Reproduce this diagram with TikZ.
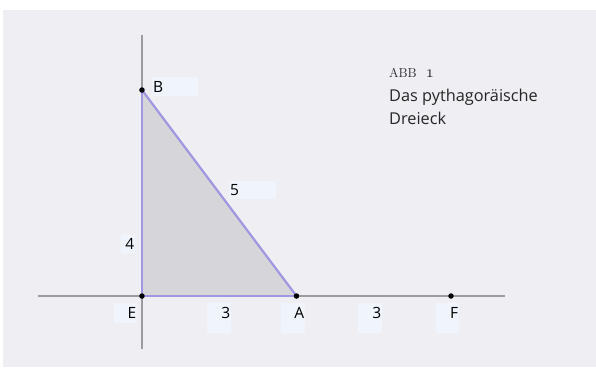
\documentclass[tikz,border=0pt]{standalone}
\usepackage{fontspec}
\usepackage{tikz}
\newfontfamily\sansfnt{Open Sans}
\newcommand\lblfont{\sansfnt\fontsize{15.5}{18}\selectfont}
\newcommand\ttlfont{\sansfnt\fontsize{16.3}{23}\selectfont}
\definecolor{panelbg}{HTML}{EEEEF3}
\definecolor{lblbg}{HTML}{F0F4FC}
\definecolor{trifill}{HTML}{D6D6DA}
\definecolor{triedge}{HTML}{9F97E2}
\definecolor{axisgray}{HTML}{9C9CA0}

\begin{document}
\begin{tikzpicture}[x=51.5pt, y=51.5pt,
  pt/.style={circle, fill=black, inner sep=0pt, minimum size=5.5pt},
  lbl/.style={fill=lblbg, font=\lblfont, inner ysep=4pt, inner xsep=1pt, anchor=north west, text height=11pt},
  lblleft/.style={lbl, text width=#1, align=left},
  lblright/.style={lbl, text width=#1, align=right},
  axis/.style={draw=axisgray, line width=2.4pt},
  side/.style={draw=triedge, line width=2.2pt}]
\useasboundingbox (-2.757,-1.379) rectangle (8.816,5.748);
\fill[panelbg] (-2.699,-1.379) rectangle (8.816,5.553);

\coordinate (E) at (0,0);
\coordinate (B) at (0,4);
\coordinate (A) at (3,0);
\coordinate (F) at (6,0);
\coordinate (xl) at (-2.02,0);
\coordinate (xr) at (7.05,0);
\coordinate (yt) at (0,5.07);
\coordinate (yb) at (0,-1.03);

\fill[trifill] (E) -- (B) -- (A) -- cycle;
\draw[axis] (xl) -- (xr);
\draw[axis] (yb) -- (yt);
\foreach \p/\q in {E/B, B/A, E/A}
{\draw[side] (\p) -- (\q);}
\foreach \p in {E, B, A, F}
{\node[pt] (dot\p) at (\p) {};}

% labels
\node[lblleft=44pt] (lB) at (0.194,4.252) {B};
\node[lblleft=45pt, inner ysep=3.5pt] (lBA) at (1.689,2.233) {5};
\node[lblright=12pt, inner ysep=3.5pt] (lEB) at (-0.408,1.184) {4};
\node[lblright=21pt, text depth=1pt] (lE) at (-0.544,-0.136) {E};
\node[lblright=22pt, text depth=11pt] (lEA) at (1.262,-0.136) {3};
\node[lblright=22pt, text depth=11pt] (lA) at (2.699,-0.136) {A};
\node[lblright=22pt, text depth=11pt] (lAF) at (4.194,-0.136) {3};
\node[lblright=21pt, text depth=11pt] (lF) at (5.709,-0.136) {F};

% caption
\node[anchor=base west, inner sep=0pt, text=black!85] (abb) at (4.796,4.252)
  {{\fontsize{13}{15}\selectfont\addfontfeature{LetterSpace=12}ABB}\hspace{9pt}{\fontsize{18}{20}\usefont{OML}{cmm}{m}{it}1}};
\node[anchor=north west, inner sep=0pt, align=left, font=\ttlfont, text=black!85] (ttl) at (4.796,4.02)
  {Das pythagoräische\\Dreieck};
\end{tikzpicture}
\end{document}
